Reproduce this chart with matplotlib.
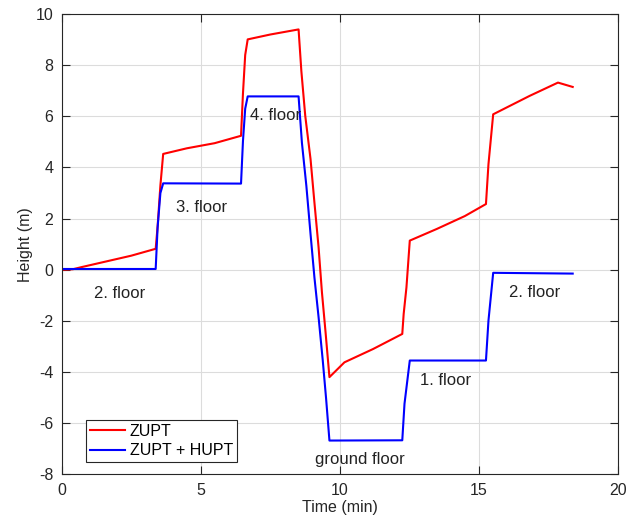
import matplotlib.pyplot as plt
import numpy as np

plt.rcParams['font.family'] = ['Liberation Sans', 'DejaVu Sans']
plt.rcParams['axes.unicode_minus'] = False

# ZUPT only (red)
zupt_t = [0.0, 0.4, 0.7, 1.5, 2.5, 3.38, 3.45, 3.55, 3.65, 4.5, 5.5, 6.45, 6.52, 6.6, 6.69,
          7.5, 8.52, 8.62, 8.76, 8.95, 9.09, 9.24, 9.36, 9.49, 9.63, 10.17, 11.2, 12.25,
          12.3, 12.4, 12.52, 13.5, 14.5, 15.26, 15.35, 15.52, 16.12, 16.83, 17.85, 18.38]
zupt_h = [0.0, 0.02, 0.1, 0.3, 0.55, 0.82, 1.7, 3.3, 4.53, 4.75, 4.95, 5.24, 6.9, 8.4, 9.01,
          9.2, 9.40, 7.77, 6.02, 4.33, 2.63, 0.87, -0.88, -2.44, -4.20, -3.62, -3.1, -2.51,
          -1.73, -0.69, 1.14, 1.6, 2.1, 2.57, 4.13, 6.08, 6.41, 6.80, 7.32, 7.15]

# ZUPT + HUPT (blue)
hupt_t = [0.0, 3.38, 3.45, 3.55, 3.65, 6.45, 6.52, 6.6, 6.69, 8.52, 8.64, 8.80, 8.95, 9.09,
          9.24, 9.39, 9.51, 9.63, 12.25, 12.33, 12.52, 15.26, 15.35, 15.52, 18.38]
hupt_h = [0.03, 0.03, 1.66, 3.0, 3.38, 3.37, 5.04, 6.3, 6.78, 6.78, 4.97, 3.28, 1.40, -0.30,
          -1.86, -3.55, -5.04, -6.68, -6.67, -5.24, -3.55, -3.55, -1.99, -0.12, -0.15]

floor_labels = ['2. floor', '3. floor', '4. floor', 'ground floor', '1. floor', '2. floor']
label_t = [2.07, 5.04, 7.68, 10.71, 13.82, 17.0]
label_h = [-0.93, 2.42, 6.02, -7.42, -4.33, -0.89]

fig = plt.figure(figsize=(6.29, 5.29), dpi=100)
ax = fig.add_axes([0.0981, 0.1034, 0.884, 0.870])

ax.plot(zupt_t, zupt_h, color='#ff0000', linewidth=1.5, label='ZUPT')
ax.plot(hupt_t, hupt_h, color='#0000ff', linewidth=1.5, label='ZUPT + HUPT')

for s, t, h in zip(floor_labels, label_t, label_h):
    ax.text(t, h, s, fontsize=12, ha='center', va='center', color='#222222')

ax.set_xlim(0, 20)
ax.set_ylim(-8, 10)
ax.set_xticks(np.arange(0, 21, 5))
ax.set_yticks(np.arange(-8, 11, 2))
ax.grid(True, color='#dcdcdc', linewidth=0.8)
ax.set_axisbelow(True)
ax.tick_params(direction='in', top=True, right=True, labelsize=11.5, colors='#262626',
               length=6, pad=6)
for sp in ax.spines.values():
    sp.set_color('#262626')
    sp.set_linewidth(0.8)

ax.set_xlabel('Time (min)', fontsize=11.5, color='#262626', labelpad=2)
ax.set_ylabel('Height (m)', fontsize=11.5, color='#262626', labelpad=2)

leg = ax.legend(loc='lower left', bbox_to_anchor=(0.043, 0.026), fontsize=11.5, fancybox=False,
                framealpha=1, edgecolor='#262626', borderpad=0.25, handlelength=2.2,
                handletextpad=0.3, labelspacing=0.3, borderaxespad=0)
leg.get_frame().set_linewidth(0.8)

fig.savefig('out.png', dpi=100)
